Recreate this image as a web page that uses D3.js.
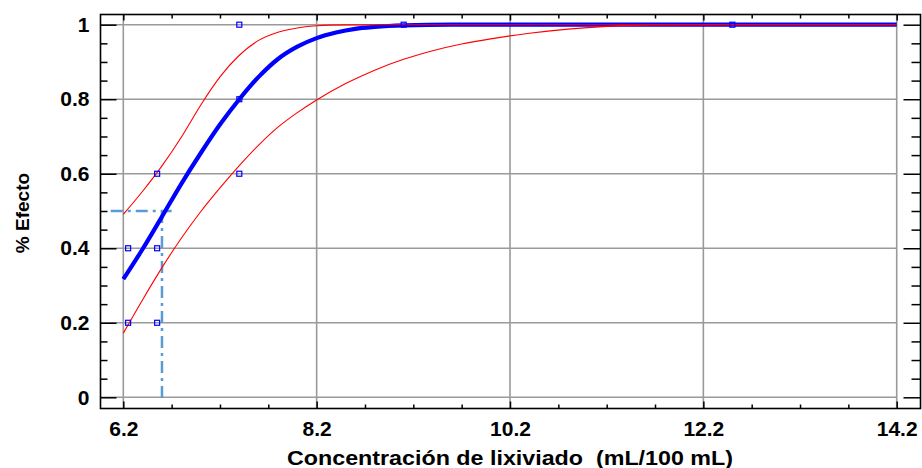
<!DOCTYPE html>
<html>
<head>
<meta charset="utf-8">
<script src="https://cdn.jsdelivr.net/npm/d3@7"></script>
<style>
  html, body { margin: 0; padding: 0; background: #fff; }
  svg { display: block; font-family: "Liberation Sans", Arial, sans-serif; }
</style>
</head>
<body>
<svg id="chart" width="922" height="468"></svg>
<script>
// Axis ticks
const xTicks = [6.2, 8.2, 10.2, 12.2, 14.2];
const yTicks = [0, 0.2, 0.4, 0.6, 0.8, 1];

// Observed responses
const obsX = [6.25, 6.25, 6.55, 6.55, 6.55, 7.4, 7.4, 7.4, 9.1, 12.5];
const obsY = [0.4, 0.2, 0.6, 0.4, 0.2, 1, 0.8, 0.6, 1, 1];

// Fitted dose-response curve
const fitX = [6.2, 6.4, 6.6, 6.8, 7.0, 7.2, 7.4, 7.6, 7.8, 8.0, 8.2, 8.4, 8.6, 8.8, 9.1, 9.6, 14.2];
const fitY = [0.317, 0.398, 0.485, 0.573, 0.655, 0.732, 0.800, 0.860, 0.908, 0.941, 0.964, 0.979, 0.989, 0.994, 0.998, 1.0, 1.0];

// Upper confidence band
const upperX = [6.2, 6.4, 6.6, 6.8, 7.0, 7.2, 7.4, 7.6, 7.8, 8.0, 8.2, 8.5, 8.9, 14.2];
const upperY = [0.491, 0.553, 0.621, 0.698, 0.784, 0.860, 0.918, 0.958, 0.980, 0.991, 0.997, 0.9995, 1.0, 1.0];

// Lower confidence band
const lowerX = [6.2, 6.4, 6.6, 6.8, 7.0, 7.2, 7.4, 7.6, 7.8, 8.0, 8.2, 8.5, 8.8, 9.1, 9.4, 9.7, 10.0, 10.4, 10.8, 11.2, 11.7, 14.2];
const lowerY = [0.172, 0.262, 0.348, 0.427, 0.498, 0.562, 0.622, 0.677, 0.725, 0.764, 0.798, 0.842, 0.878, 0.907, 0.930, 0.948, 0.962, 0.977, 0.988, 0.9955, 0.9995, 1.0];

// LC50 guide (50 % effect)
const lc50 = 6.6;
const halfEffect = 0.5;

const svg = d3.select("#chart");
const frame = { left: 100.5, right: 920.5, top: 14.5, bottom: 408.5 };

const x = d3.scaleLinear().domain([6.2, 14.2]).range([123.3, 896.7]);
const y = d3.scaleLinear().domain([0, 1]).range([397.3, 24.7]);

const minorX = d3.range(6.2, 14.21, 0.5).map(v => +v.toFixed(2)).filter(v => !xTicks.includes(v));
const minorY = d3.range(0, 1.001, 0.05).map(v => +v.toFixed(2)).filter(v => !yTicks.includes(v));

// Grid
const grid = svg.append("g").attr("stroke", "#9a9a9a").attr("stroke-width", 1.6);
grid.selectAll("line.v").data(xTicks).join("line")
  .attr("x1", d => x(d)).attr("x2", d => x(d))
  .attr("y1", frame.top).attr("y2", frame.bottom);
grid.selectAll("line.h").data(yTicks).join("line")
  .attr("x1", frame.left).attr("x2", x(14.2))
  .attr("y1", d => y(d)).attr("y2", d => y(d));

// Axes (ticks point into the plot)
function styleAxis(g) {
  g.select(".domain").remove();
  g.selectAll(".tick line").attr("stroke", "#000").attr("stroke-width", 1.5);
  g.selectAll("text").attr("fill", "#000").attr("font-size", 21).attr("font-weight", "bold")
    .attr("font-family", "'Liberation Sans', Arial, sans-serif");
}
const fmt = d => d3.format("~g")(d);

svg.append("g").attr("transform", `translate(0,${frame.bottom})`)
  .call(d3.axisBottom(x).tickValues(xTicks).tickSize(-7).tickPadding(13).tickFormat(fmt)).call(styleAxis);
svg.append("g").attr("transform", `translate(0,${frame.bottom})`)
  .call(d3.axisBottom(x).tickValues(minorX).tickSize(-4).tickFormat("")).call(styleAxis);
svg.append("g").attr("transform", `translate(0,${frame.top})`)
  .call(d3.axisTop(x).tickValues(xTicks).tickSize(-6).tickFormat("")).call(styleAxis);
svg.append("g").attr("transform", `translate(0,${frame.top})`)
  .call(d3.axisTop(x).tickValues(minorX).tickSize(-4).tickFormat("")).call(styleAxis);

svg.append("g").attr("transform", `translate(${frame.left},0)`)
  .call(d3.axisLeft(y).tickValues(yTicks).tickSize(-16).tickPadding(11).tickFormat(fmt)).call(styleAxis);
svg.append("g").attr("transform", `translate(${frame.left},0)`)
  .call(d3.axisLeft(y).tickValues(minorY).tickSize(-7).tickFormat("")).call(styleAxis);
svg.append("g").attr("transform", `translate(${frame.right},0)`)
  .call(d3.axisRight(y).tickValues(yTicks).tickSize(-17).tickFormat("")).call(styleAxis);
svg.append("g").attr("transform", `translate(${frame.right},0)`)
  .call(d3.axisRight(y).tickValues(minorY).tickSize(-9).tickFormat("")).call(styleAxis);

// Frame
svg.append("rect")
  .attr("x", frame.left).attr("y", frame.top)
  .attr("width", frame.right - frame.left).attr("height", frame.bottom - frame.top)
  .attr("fill", "none").attr("stroke", "#000").attr("stroke-width", 1.6);

// LC50 dash-dot guide
const guide = svg.append("g").attr("stroke", "#5b9bd5").attr("stroke-width", 2.5)
  .attr("stroke-dasharray", "12,5,3,5").attr("fill", "none");
guide.append("line")
  .attr("x1", x(6.07)).attr("x2", x(6.7))
  .attr("y1", y(halfEffect)).attr("y2", y(halfEffect));
guide.append("line")
  .attr("x1", x(lc50)).attr("x2", x(lc50))
  .attr("y1", y(halfEffect)).attr("y2", y(-0.008));

// Curves
const line = (xs, ys) => d3.line().curve(d3.curveMonotoneX)
  .x(i => x(xs[i])).y(i => y(ys[i]))(d3.range(xs.length));

svg.append("path").attr("d", line(fitX, fitY))
  .attr("fill", "none").attr("stroke", "#0000ff").attr("stroke-width", 4.2);
svg.append("path").attr("d", line(upperX, upperY))
  .attr("fill", "none").attr("stroke", "#ff0000").attr("stroke-width", 1.1);
svg.append("path").attr("d", line(lowerX, lowerY))
  .attr("fill", "none").attr("stroke", "#ff0000").attr("stroke-width", 1.1);

// Observations
svg.append("g").selectAll("rect").data(d3.range(obsX.length)).join("rect")
  .attr("x", i => x(obsX[i]) - 2.5).attr("y", i => y(obsY[i]) - 2.5)
  .attr("width", 5).attr("height", 5)
  .attr("fill", "none").attr("stroke", "#0000ff").attr("stroke-width", 1.2);

// Axis titles
svg.append("text")
  .attr("x", 510).attr("y", 465).attr("text-anchor", "middle")
  .attr("font-size", 20).attr("font-weight", "bold")
  .style("white-space", "pre")
  .attr("textLength", 446).attr("lengthAdjust", "spacingAndGlyphs")
  .text("Concentración de lixiviado  (mL/100 mL)");
svg.append("text")
  .attr("transform", "translate(29,213) rotate(-90)").attr("text-anchor", "middle")
  .attr("font-size", 19).attr("font-weight", "bold")
  .text("% Efecto");
</script>
</body>
</html>
